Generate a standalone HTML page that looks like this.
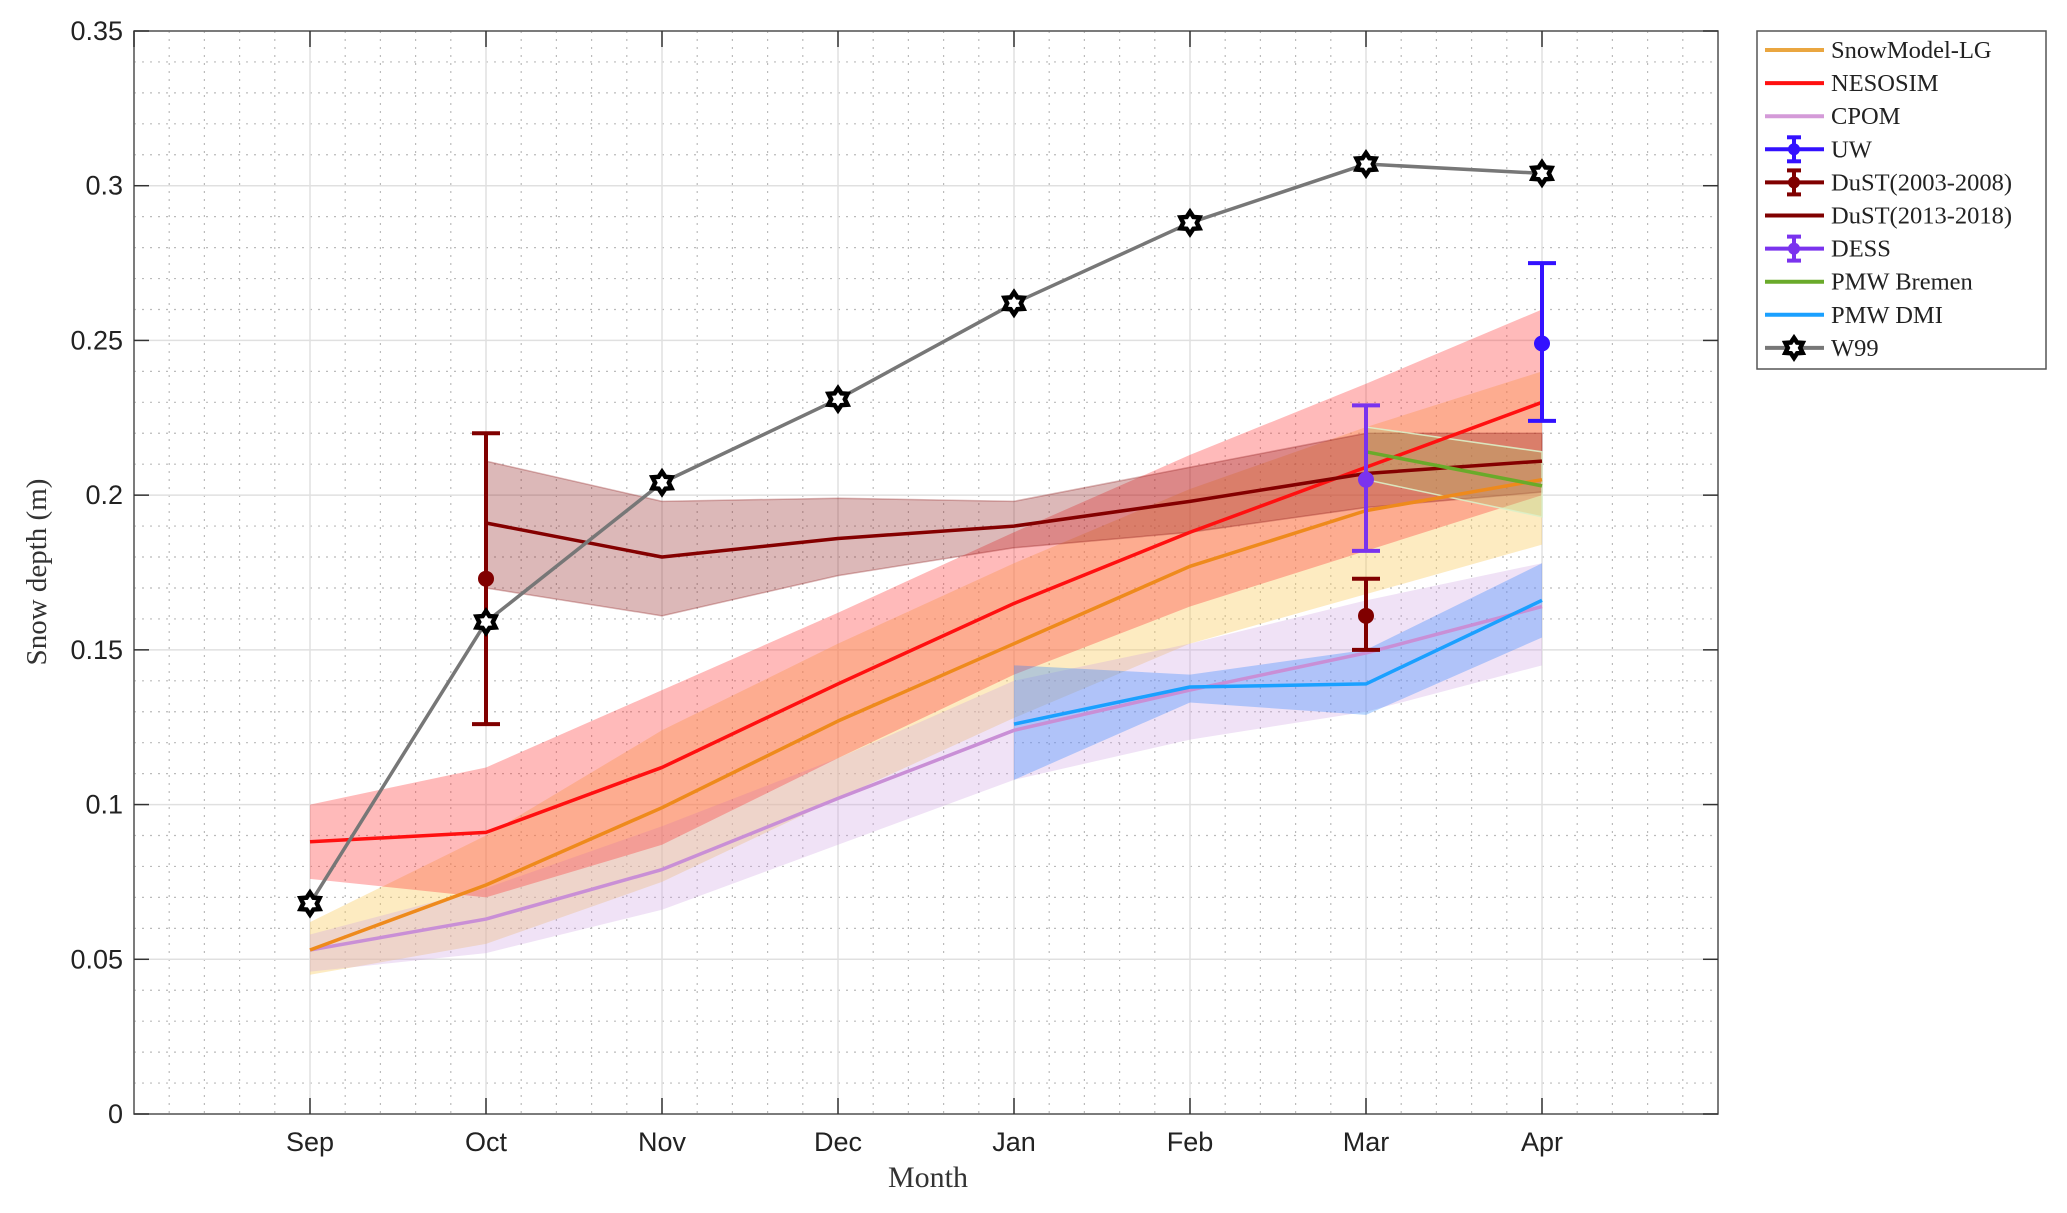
<!DOCTYPE html>
<html><head><meta charset="utf-8"><style>
html,body{margin:0;padding:0;background:#fff;}
svg{display:block;}
</style></head><body>
<svg id="chart" width="2067" height="1213" viewBox="0 0 2067 1213" xmlns="http://www.w3.org/2000/svg"></svg>
<script>
const months = ["Sep","Oct","Nov","Dec","Jan","Feb","Mar","Apr"];
const yTicks = [0,0.05,0.1,0.15,0.2,0.25,0.3,0.35];
const yTickLabels = ["0","0.05","0.1","0.15","0.2","0.25","0.3","0.35"];
const w99 = [0.068,0.159,0.204,0.231,0.262,0.288,0.307,0.304];
const neso = [0.088,0.091,0.112,0.139,0.165,0.188,0.209,0.230];
const nesoHi = [0.100,0.112,0.137,0.162,0.188,0.213,0.236,0.260];
const nesoLo = [0.076,0.070,0.087,0.115,0.142,0.164,0.182,0.200];
const smlg = [0.053,0.074,0.099,0.127,0.152,0.177,0.195,0.205];
const smlgHi = [0.062,0.090,0.124,0.152,0.178,0.202,0.222,0.240];
const smlgLo = [0.045,0.055,0.075,0.102,0.128,0.152,0.168,0.184];
const cpom = [0.053,0.063,0.079,0.102,0.124,0.137,0.149,0.164];
const cpomHi = [0.058,0.073,0.093,0.115,0.140,0.152,0.166,0.178];
const cpomLo = [0.046,0.052,0.066,0.087,0.108,0.121,0.130,0.145];
const dust2Idx = [1,2,3,4,5,6,7];
const dust2 = [0.191,0.180,0.186,0.190,0.198,0.207,0.211];
const dust2Hi = [0.211,0.198,0.199,0.198,0.209,0.220,0.220];
const dust2Lo = [0.170,0.161,0.174,0.183,0.188,0.196,0.201];
const dust1Idx = [1,6];
const dust1 = [0.173,0.161];
const dust1Lo = [0.126,0.150];
const dust1Hi = [0.220,0.173];
const uwIdx = [7], uw = [0.249], uwLo = [0.224], uwHi = [0.275];
const dessIdx = [6], dess = [0.205], dessLo = [0.182], dessHi = [0.229];
const bremIdx = [6,7], brem = [0.214,0.203], bremHi = [0.222,0.214], bremLo = [0.205,0.193];
const dmiIdx = [4,5,6,7], dmi = [0.126,0.138,0.139,0.166], dmiHi = [0.145,0.142,0.150,0.178], dmiLo = [0.108,0.133,0.129,0.154];

const L=134, R=1718, T=31, B=1114, MS=176;
const X = i => L + (i+1)*MS;
const Y = v => B - v/0.35*(B-T);
const svg = document.getElementById('chart');
const NS='http://www.w3.org/2000/svg';
function mk(tag, attrs, parent){const e=document.createElementNS(NS,tag);for(const k in attrs)e.setAttribute(k,attrs[k]);(parent||svg).appendChild(e);return e;}

const grid = mk('g',{});


for(let k=0;k<=35;k++){ if(k%5===0) continue; const y=Y(k*0.01); mk('line',{x1:L,x2:R,y1:y,y2:y,stroke:'#bbb','stroke-width':1.2,'stroke-dasharray':'2 6'},grid);}
for(let k=0;k<=45;k++){ if(k%5===0) continue; const x=L+k*MS/5; mk('line',{x1:x,x2:x,y1:T,y2:B,stroke:'#bbb','stroke-width':1.2,'stroke-dasharray':'2 6'},grid);}
yTicks.forEach(v=>{mk('line',{x1:L,x2:R,y1:Y(v),y2:Y(v),stroke:'#e0e0e0','stroke-width':1.5},grid);});
for(let i=-1;i<=8;i++){mk('line',{x1:X(i),x2:X(i),y1:T,y2:B,stroke:'#e0e0e0','stroke-width':1.5},grid);}

function band(idx, hi, lo, fill, name, stroke){
  let d='';
  idx.forEach((m,j)=>{d+=(j?'L':'M')+X(m)+','+Y(hi[j]);});
  for(let j=idx.length-1;j>=0;j--) d+='L'+X(idx[j])+','+Y(lo[j]);
  const p=mk('path',{d:d+'Z',fill:fill,stroke:stroke||'none','stroke-width':1.5});
  
  
}
function line(idx, vals, color, w, name){
  const pts=idx.map((m,j)=>X(m)+','+Y(vals[j])).join(' ');
  const p=mk('polyline',{points:pts,fill:'none',stroke:color,'stroke-width':w,'stroke-linejoin':'round'});
  
  
}
function errbar(idx, vals, lo, hi, color, name){
  idx.forEach((m,j)=>{
    const g=mk('g',{});
    
    
    const x=X(m);
    mk('line',{x1:x,x2:x,y1:Y(lo[j]),y2:Y(hi[j]),stroke:color,'stroke-width':4},g);
    mk('line',{x1:x-14,x2:x+14,y1:Y(lo[j]),y2:Y(lo[j]),stroke:color,'stroke-width':4},g);
    mk('line',{x1:x-14,x2:x+14,y1:Y(hi[j]),y2:Y(hi[j]),stroke:color,'stroke-width':4},g);
    mk('circle',{cx:x,cy:Y(vals[j]),r:8,fill:color},g);
  });
}
const all=[0,1,2,3,4,5,6,7];
band(all,smlgHi,smlgLo,'rgba(250,205,100,0.4)','snowmodel-band');
band(all,cpomHi,cpomLo,'rgba(205,160,225,0.3)','cpom-band');
band(all,nesoHi,nesoLo,'rgba(255,40,40,0.32)','nesosim-band');
band(dust2Idx,dust2Hi,dust2Lo,'rgba(140,20,20,0.3)','dust-2013-band','rgba(140,20,20,0.3)');
band(bremIdx,bremHi,bremLo,'rgba(170,190,100,0.3)','bremen-band','rgba(220,240,200,0.9)');
band(dmiIdx,dmiHi,dmiLo,'rgba(40,130,255,0.32)','dmi-band');
line(all,cpom,'#c98fd6',3.5,'cpom-line');
line(all,smlg,'#ee8a1c',3.5,'snowmodel-line');
line(all,neso,'#ff1010',3.5,'nesosim-line');
line(dust2Idx,dust2,'#840000',3.5,'dust-2013-line');
line(bremIdx,brem,'#6aaa2a',3.5,'bremen-line');
line(dmiIdx,dmi,'#1aa0ff',3.5,'dmi-line');
line(all,w99,'#777',3.5,'w99-line');
errbar(dust1Idx,dust1,dust1Lo,dust1Hi,'#800000','dust-2003-point');
errbar(uwIdx,uw,uwLo,uwHi,'#3311ff','uw-point');
errbar(dessIdx,dess,dessLo,dessHi,'#7a33ee','dess-point');

function star(cx,cy,r,parent){
  let d='';
  for(let k=0;k<12;k++){const a=-Math.PI/2+k*Math.PI/6;const rr=k%2?r*0.62:r;d+=(k?'L':'M')+(cx+rr*Math.cos(a))+','+(cy+rr*Math.sin(a));}
  return mk('path',{d:d+'Z',fill:'#fff',stroke:'#000','stroke-width':4.5,'stroke-linejoin':'miter'},parent);
}
w99.forEach((v,i)=>{const s=star(X(i),Y(v),11);
  
  });

const ax=mk('rect',{x:L,y:T,width:R-L,height:B-T,fill:'none',stroke:'#555','stroke-width':1.5});


yTicks.forEach((v,k)=>{
  mk('line',{x1:L,x2:L+15,y1:Y(v),y2:Y(v),stroke:'#333','stroke-width':1.5});
  mk('line',{x1:R-15,x2:R,y1:Y(v),y2:Y(v),stroke:'#333','stroke-width':1.5});
  const t=mk('text',{x:L-11,y:Y(v)+9,'text-anchor':'end','font-family':'Liberation Sans, sans-serif','font-size':27,fill:'#222'});
  t.textContent=yTickLabels[k];
  
  
});
months.forEach((m,i)=>{
  mk('line',{x1:X(i),x2:X(i),y1:B-16,y2:B,stroke:'#333','stroke-width':1.5});
  mk('line',{x1:X(i),x2:X(i),y1:T,y2:T+16,stroke:'#333','stroke-width':1.5});
  const t=mk('text',{x:X(i),y:B+37,'text-anchor':'middle','font-family':'Liberation Sans, sans-serif','font-size':27,fill:'#222'});
  t.textContent=m;
  
  
});
mk('line',{x1:X(-1),x2:X(-1),y1:T,y2:T+16,stroke:'#333','stroke-width':1.5});
const xl=mk('text',{x:928,y:1187,'text-anchor':'middle','font-family':'Liberation Serif, serif','font-size':30,fill:'#333'});
xl.textContent='Month';


const yl=mk('text',{x:0,y:0,'text-anchor':'middle','font-family':'Liberation Serif, serif','font-size':29,fill:'#333',transform:'translate(46,572) rotate(-90)'});
yl.textContent='Snow depth (m)';



const lg=mk('g',{});


mk('rect',{x:1757,y:31,width:289,height:338,fill:'#fff',stroke:'#555','stroke-width':1.5},lg);
const entries=[['SnowModel-LG','#eaa640','l'],['NESOSIM','#ff1010','l'],['CPOM','#d49ad8','l'],['UW','#3311ff','e'],['DuST(2003-2008)','#800000','e'],['DuST(2013-2018)','#800000','l'],['DESS','#7a33ee','e'],['PMW Bremen','#6aaa2a','l'],['PMW DMI','#1aa0ff','l'],['W99','#777','s']];
entries.forEach((e,k)=>{
  const y=50+k*33.1;
  const g=mk('g',{},lg);
  
  
  mk('line',{x1:1765,x2:1824,y1:y,y2:y,stroke:e[1],'stroke-width':4},g);
  if(e[2]==='e'){const x=1794;mk('line',{x1:x,x2:x,y1:y-12,y2:y+12,stroke:e[1],'stroke-width':4},g);
    mk('line',{x1:x-7,x2:x+7,y1:y-12,y2:y-12,stroke:e[1],'stroke-width':4},g);
    mk('line',{x1:x-7,x2:x+7,y1:y+12,y2:y+12,stroke:e[1],'stroke-width':4},g);
    mk('circle',{cx:x,cy:y,r:6,fill:e[1]},g);}
  if(e[2]==='s'){star(1794,y,10,g);}
  const t=mk('text',{x:1831,y:y+8,'font-family':'Liberation Serif, serif','font-size':24.5,fill:'#222'},g);
  t.textContent=e[0];
});
</script>
</body></html>
